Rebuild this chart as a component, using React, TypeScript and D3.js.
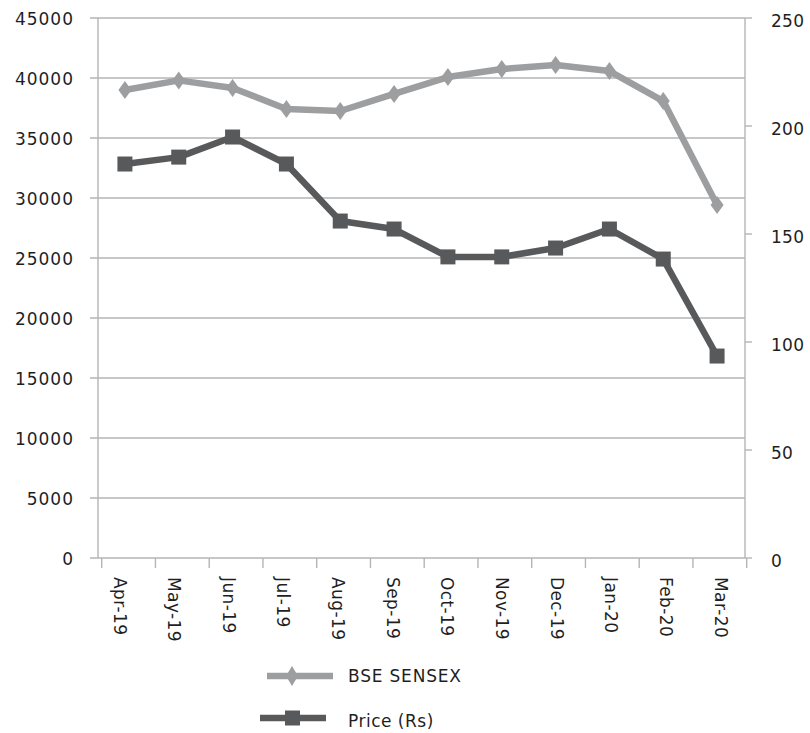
import React, { useEffect, useRef } from 'react';
import * as d3 from 'd3';

const months = ['Apr-19', 'May-19', 'Jun-19', 'Jul-19', 'Aug-19', 'Sep-19', 'Oct-19', 'Nov-19', 'Dec-19', 'Jan-20', 'Feb-20', 'Mar-20'];
const sensex = [39000, 39800, 39170, 37420, 37250, 38670, 40080, 40750, 41080, 40580, 38080, 29420];
const price = [182.4, 185.6, 194.9, 182.4, 156, 152.3, 139.4, 139.4, 143.5, 152.3, 138.4, 93.5];
const leftTicks = [0, 5000, 10000, 15000, 20000, 25000, 30000, 35000, 40000, 45000];
const rightTicks = [0, 50, 100, 150, 200, 250];

const App = () => {
  const ref = useRef<SVGSVGElement>(null);

  useEffect(() => {
    const svg = d3.select(ref.current);
    svg.selectAll('*').remove();

    const left = 98, right = 745, top = 18, bottom = 558;
    const font = '"DejaVu Sans", sans-serif';
    const gridColor = '#b5b5b5';
    const light = '#9d9e a0'.replace(' ', '');
    const dark = '#58595b';
    const textColor = '#1f1f1f';

    const x = d3.scaleBand().domain(months).range([left, 744]);
    const xTick = d3.scaleBand().domain(months).range([101.7, 746.7]);
    const xLabel = d3.scalePoint().domain(months).range([118, 719]);
    const yL = d3.scaleLinear().domain([0, 45000]).range([bottom, top]);
    const yR = d3.scaleLinear().domain([0, 250]).range([bottom, top]);
    const cx = (d: string) => (x(d) as number) + x.bandwidth() / 2;

    // gridlines
    svg.append('g')
      .selectAll('line')
      .data(leftTicks)
      .enter()
      .append('line')
      .attr('x1', left - 8)
      .attr('x2', right)
      .attr('y1', (d) => yL(d))
      .attr('y2', (d) => yL(d))
      .attr('stroke', gridColor)
      .attr('stroke-width', 1.4);

    // right axis ticks
    svg.append('g')
      .selectAll('line')
      .data(rightTicks)
      .enter()
      .append('line')
      .attr('x1', right)
      .attr('x2', right + 7)
      .attr('y1', (d) => yR(d))
      .attr('y2', (d) => yR(d))
      .attr('stroke', gridColor)
      .attr('stroke-width', 1.4);

    // axis lines
    svg.append('line').attr('x1', left).attr('x2', left).attr('y1', top).attr('y2', bottom)
      .attr('stroke', gridColor).attr('stroke-width', 1.4);
    svg.append('line').attr('x1', right).attr('x2', right).attr('y1', top).attr('y2', bottom)
      .attr('stroke', gridColor).attr('stroke-width', 1.4);

    // x ticks
    svg.append('g')
      .selectAll('line')
      .data(months.concat(['end']))
      .enter()
      .append('line')
      .attr('x1', (d) => (d === 'end' ? 746.7 : (xTick(d) as number)))
      .attr('x2', (d) => (d === 'end' ? 746.7 : (xTick(d) as number)))
      .attr('y1', bottom)
      .attr('y2', bottom + 10)
      .attr('stroke', gridColor)
      .attr('stroke-width', 1.4);

    // left labels
    svg.append('g')
      .selectAll('text')
      .data(leftTicks)
      .enter()
      .append('text')
      .attr('x', 74)
      .attr('y', (d) => yL(d) + 6.5)
      .attr('text-anchor', 'end')
      .attr('font-family', font)
      .attr('font-size', 17)
      .attr('letter-spacing', 1)
      .attr('fill', textColor)
      .text((d) => d);

    // right labels
    svg.append('g')
      .selectAll('text')
      .data(rightTicks)
      .enter()
      .append('text')
      .attr('x', 771)
      .attr('y', (d) => yR(d) + 8.5)
      .attr('font-family', font)
      .attr('font-size', 17)
      .attr('letter-spacing', 0.3)
      .attr('fill', textColor)
      .text((d) => d);

    // x labels
    svg.append('g')
      .selectAll('text')
      .data(months)
      .enter()
      .append('text')
      .attr('transform', (d) => `translate(${(xLabel(d) as number) - 4.5},577) rotate(90)`)
      .attr('font-family', font)
      .attr('font-size', 17)
      .attr('letter-spacing', 0.4)
      .attr('fill', textColor)
      .text((d) => d);

    const lineS = d3.line<number>().x((d, i) => cx(months[i])).y((d) => yL(d));
    const lineP = d3.line<number>().x((d, i) => cx(months[i])).y((d) => yR(d));

    svg.append('path').attr('d', lineS(sensex)).attr('fill', 'none')
      .attr('stroke', light).attr('stroke-width', 6.5).attr('stroke-linejoin', 'round');
    svg.append('path').attr('d', lineP(price)).attr('fill', 'none')
      .attr('stroke', dark).attr('stroke-width', 6.5).attr('stroke-linejoin', 'round');

    const diamond = (px: number, py: number, w: number, h: number) =>
      `M${px},${py - h / 2}L${px + w / 2},${py}L${px},${py + h / 2}L${px - w / 2},${py}Z`;

    svg.append('g')
      .selectAll('path')
      .data(sensex)
      .enter()
      .append('path')
      .attr('d', (d, i) => diamond(cx(months[i]), yL(d), 13, 18))
      .attr('fill', light);

    svg.append('g')
      .selectAll('rect')
      .data(price)
      .enter()
      .append('rect')
      .attr('x', (d, i) => cx(months[i]) - 7.5)
      .attr('y', (d) => yR(d) - 7.5)
      .attr('width', 15)
      .attr('height', 15)
      .attr('fill', dark);

    // legend
    const leg = svg.append('g');
    leg.append('line').attr('x1', 267).attr('x2', 333).attr('y1', 676).attr('y2', 676)
      .attr('stroke', light).attr('stroke-width', 6.5);
    leg.append('path').attr('d', diamond(292, 676, 12, 20)).attr('fill', light);
    leg.append('text').attr('x', 348).attr('y', 682).attr('font-family', font).attr('font-size', 17)
      .attr('letter-spacing', 0.8).attr('fill', textColor).text('BSE SENSEX');

    leg.append('line').attr('x1', 260).attr('x2', 326).attr('y1', 718).attr('y2', 718)
      .attr('stroke', dark).attr('stroke-width', 6.5);
    leg.append('rect').attr('x', 285).attr('y', 710.5).attr('width', 15).attr('height', 15).attr('fill', dark);
    leg.append('text').attr('x', 348).attr('y', 727).attr('font-family', font).attr('font-size', 17)
      .attr('letter-spacing', 0.5).attr('fill', textColor).text('Price (Rs)');
  }, []);

  return (
    <svg
      ref={ref}
      width={810}
      height={733}
      style={{ position: 'absolute', left: 0, top: 0, display: 'block', background: '#fff' }}
    ></svg>
  );
};

export default App;
